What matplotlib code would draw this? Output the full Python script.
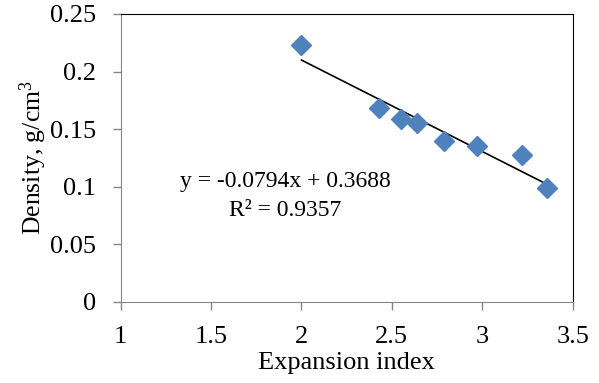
import numpy as np
import matplotlib.pyplot as plt
from matplotlib.ticker import FuncFormatter

# data
expansion_index = [2.00, 2.43, 2.55, 2.64, 2.79, 2.97, 3.22, 3.36]
density = [0.223, 0.168, 0.159, 0.155, 0.140, 0.135, 0.128, 0.099]
slope = -0.0794
intercept = 0.3688
r2 = 0.9357

plt.rcParams['font.family'] = ['Liberation Serif', 'DejaVu Serif']
plt.rcParams['mathtext.fontset'] = 'custom'
plt.rcParams['mathtext.rm'] = 'Liberation Serif'
plt.rcParams['mathtext.it'] = 'Liberation Serif'

fig = plt.figure(figsize=(5.99, 3.83), dpi=100)
ax = fig.add_axes([0.2015, 0.2115, 0.7545, 0.752])

ax.plot(expansion_index, density, linestyle='none', marker='D',
        markersize=10.5, color='#4F81BD', zorder=3)

xfit = np.array([min(expansion_index), max(expansion_index)])
ax.plot(xfit, slope * xfit + intercept, color='black', linewidth=1.2, zorder=2)

eq = 'y = %.4fx + %.4f\nR² = %.4f' % (slope, intercept, r2)
ax.text(1.909, 0.092, eq, ha='center', va='center', fontsize=17,
        linespacing=1.55, multialignment='center')

ax.set_xlim(1, 3.5)
ax.set_ylim(0, 0.25)
ax.set_xticks([1, 1.5, 2, 2.5, 3, 3.5])
ax.set_yticks([0, 0.05, 0.1, 0.15, 0.2, 0.25])
ax.xaxis.set_major_formatter(FuncFormatter(lambda v, p: '%g' % v))
ax.yaxis.set_major_formatter(FuncFormatter(lambda v, p: '%g' % v))
ax.tick_params(labelsize=19, colors='#868686', labelcolor='black',
               length=5.5, width=1, pad=12)

for s in ['left', 'bottom']:
    ax.spines[s].set_color('#868686')
for s in ['top', 'right']:
    ax.spines[s].set_color('black')

ax.set_xlabel('Expansion index', fontsize=19, labelpad=3)
ax.set_ylabel(r'Density, g/cm$^\mathrm{3}$', fontsize=18.5, labelpad=1)

fig.savefig('out.png', dpi=100)
